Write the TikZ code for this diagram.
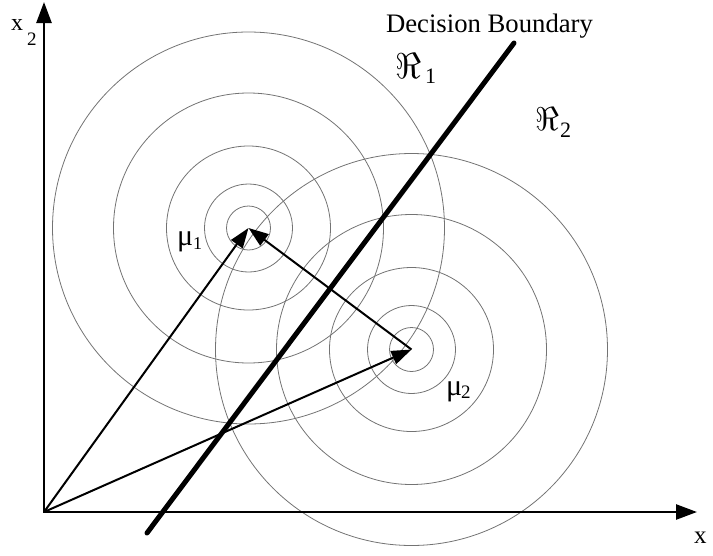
\documentclass[tikz,border=0pt]{standalone}
\usepackage{fontspec}
\setmainfont{Liberation Serif}
\usetikzlibrary{arrows.meta}
\begin{document}
\begin{tikzpicture}[x=1pt,y=-1pt,
  contour/.style={draw=black!55, line width=0.8pt},
  vec/.style={line width=2pt, -{Triangle[length=20pt,width=14pt]}},
  axis/.style={line width=2.5pt, line join=miter},
  lbl/.style={inner sep=0pt, anchor=base west}]
\useasboundingbox (0,0) rectangle (713,555);
\coordinate (O) at (44,512);
\coordinate (ytip) at (44,2);
\coordinate (xtip) at (697,512);
\coordinate (m1) at (248.5,228);
\coordinate (m2) at (411.5,349.5);
\coordinate (b1) at (147,533);
\coordinate (b2) at (514,43);
\foreach \r in {22,44,82,135,196} {
  \draw[contour] (m1) circle[radius=\r pt];
  \draw[contour] (m2) circle[radius=\r pt];
}
\draw[line width=5pt, line cap=round] (b1) -- (b2);
\draw[axis, {Triangle[length=21pt,width=15pt]}-{Triangle[length=21pt,width=15pt]}] (ytip) -- (O) -- (xtip);
\draw[vec] (O) -- (m1);
\draw[vec] (O) -- (m2);
\draw[vec] (m2) -- (m1);
% labels
\node[lbl] (x2) at (11,30) {\fontsize{24}{24}\selectfont x};
\node[lbl] (x2s) at (27,45) {\fontsize{19}{19}\selectfont 2};
\node[lbl] (x1) at (694,543) {\fontsize{25}{25}\selectfont x};
\node[inner sep=0pt, anchor=base] (db) at (489.5,32) {\fontsize{26.7}{26.7}\selectfont Decision Boundary};
\node[lbl] (r1) at (395,78) {\scalebox{3.6}{$\Re$}};
\node[lbl] (r1s) at (425,83) {\fontsize{22}{22}\selectfont 1};
\node[lbl] (r2) at (535,130) {\scalebox{3.3}{$\Re$}};
\node[lbl] (r2s) at (560,137) {\fontsize{22}{22}\selectfont 2};
\node[lbl] (mu1) at (177,245) {\fontsize{30}{30}\selectfont μ};
\node[lbl] (mu1s) at (193,249) {\fontsize{18}{18}\selectfont 1};
\node[lbl] (mu2) at (446,395) {\fontsize{30}{30}\selectfont μ};
\node[lbl] (mu2s) at (461,398) {\fontsize{19}{19}\selectfont 2};
\end{tikzpicture}
\end{document}
